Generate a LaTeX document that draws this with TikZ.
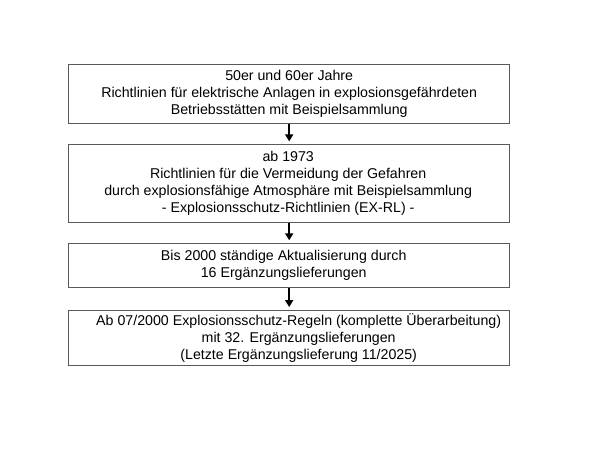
\documentclass[tikz,border=0pt]{standalone}
\usepackage{fontspec}
\setmainfont{Liberation Sans}
\usetikzlibrary{arrows.meta}
\definecolor{boxline}{HTML}{595959}
\tikzset{
  box/.style={draw=boxline, line width=1pt, minimum width=440.5pt, inner sep=0pt, fill=white},
  txt/.style={align=center, inner sep=0pt, font=\fontsize{14.2pt}{17pt}\selectfont},
  flow/.style={line width=2pt, -{Triangle[width=8pt,length=7pt]}, shorten >=2.5pt}
}
\begin{document}
\begin{tikzpicture}[x=1pt,y=-1pt]
\useasboundingbox (0,0) rectangle (600,450);
\node[box, minimum height=59pt] (b1) at (289.2,93.8) {};
\node[box, minimum height=77.7pt] (b2) at (289.2,183.2) {};
\node[box, minimum height=44pt] (b3) at (289.2,265.3) {};
\node[box, minimum height=55.7pt] (b4) at (289.2,337.9) {};
\node[txt] (t1) at ([xshift=0pt]b1.center) {50er und 60er Jahre\\Richtlinien für elektrische Anlagen in explosionsgefährdeten\\Betriebsstätten mit Beispielsammlung};
\node[txt] (t2) at ([xshift=-1pt]b2.center) {ab 1973\\Richtlinien für die Vermeidung der Gefahren\\durch explosionsfähige Atmosphäre mit Beispielsammlung\\- Explosionsschutz-Richtlinien (EX-RL) -};
\node[txt] (t3) at ([xshift=-5.5pt]b3.center) {Bis 2000 ständige Aktualisierung durch\\16 Ergänzungslieferungen};
\node[txt] (t4) at ([xshift=9.5pt]b4.center) {Ab 07/2000 Explosionsschutz-Regeln (komplette Überarbeitung)\\mit 32. Ergänzungslieferungen\\(Letzte Ergänzungslieferung 11/2025)};
\draw[flow] (b1.south) -- (b2.north);
\draw[flow] (b2.south) -- (b3.north);
\draw[flow] (b3.south) -- (b4.north);
\end{tikzpicture}
\end{document}
